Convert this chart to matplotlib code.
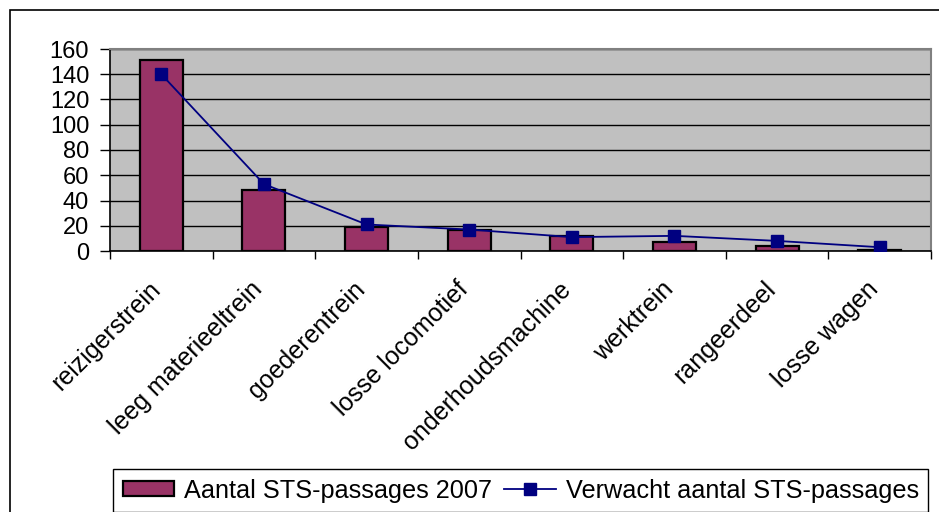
import numpy as np
import matplotlib.pyplot as plt
from matplotlib.patches import Rectangle
from matplotlib.transforms import ScaledTranslation

# ----- Data -----
categories = ["reizigerstrein", "leeg materieeltrein", "goederentrein",
              "losse locomotief", "onderhoudsmachine", "werktrein",
              "rangeerdeel", "losse wagen"]
passages_2007 = [151, 48, 19, 17, 12, 7, 4, 1]
expected = [140, 53, 21, 17, 11, 12, 8, 3]

bar_label = "Aantal STS-passages 2007"
line_label = "Verwacht aantal STS-passages"

plt.rcParams['font.family'] = ['Liberation Sans', 'DejaVu Sans']

fig = plt.figure(figsize=(9.39, 5.12), dpi=100)
ax = fig.add_axes([110 / 939, 1 - 251 / 512, 821 / 939, 202 / 512])

x = np.arange(len(categories))

# ----- Plot area -----
ax.set_facecolor("#c0c0c0")
ax.set_axisbelow(True)
ax.yaxis.grid(True, color="black", linewidth=1.0)

bars = ax.bar(x, passages_2007, width=0.42, color="#993366",
              edgecolor="black", linewidth=1.6, zorder=2)
line, = ax.plot(x, expected, color="#000080", linewidth=1.3, marker="s",
                markersize=8, zorder=3)

ax.set_xlim(-0.5, len(categories) - 0.5)
ax.set_ylim(0, 160)
ax.set_yticks(np.arange(0, 161, 20))
ax.tick_params(axis="y", labelsize=17, length=7, width=1, pad=8)

# category labels in the middle, tick marks between categories
ax.set_xticks(x)
ax.set_xticklabels(categories, rotation=45, ha="right", va="center",
                   rotation_mode="anchor", fontsize=18)
ax.tick_params(axis="x", which="major", length=0, pad=25)
shift = ScaledTranslation(-5 / 100, 0, fig.dpi_scale_trans)
for lbl in ax.get_xticklabels():
    lbl.set_transform(lbl.get_transform() + shift)
ax.set_xticks(np.arange(-0.5, len(categories), 1), minor=True)
ax.tick_params(axis="x", which="minor", length=6, width=1)

for side in ("top", "right"):
    ax.spines[side].set_color("#808080")
    ax.spines[side].set_linewidth(1.5)
for side in ("left", "bottom"):
    ax.spines[side].set_color("black")
    ax.spines[side].set_linewidth(1.2)

# ----- Legend -----
fig.legend([bars, line], [bar_label, line_label],
           loc="upper left", bbox_to_anchor=(113 / 939, 1 - 469 / 512),
           ncol=2, fontsize=18.2, frameon=True, fancybox=False,
           edgecolor="black", framealpha=1, borderpad=0.38,
           handlelength=2.05, handleheight=0.53, handletextpad=0.38,
           columnspacing=0.48, borderaxespad=0)

# ----- Chart border -----
fig.patches.append(Rectangle((10 / 939, -0.05), 1.0, 1 - 10 / 512 + 0.05,
                             transform=fig.transFigure, fill=False,
                             edgecolor="black", linewidth=1.2))

fig.savefig("out.png", dpi=100)
